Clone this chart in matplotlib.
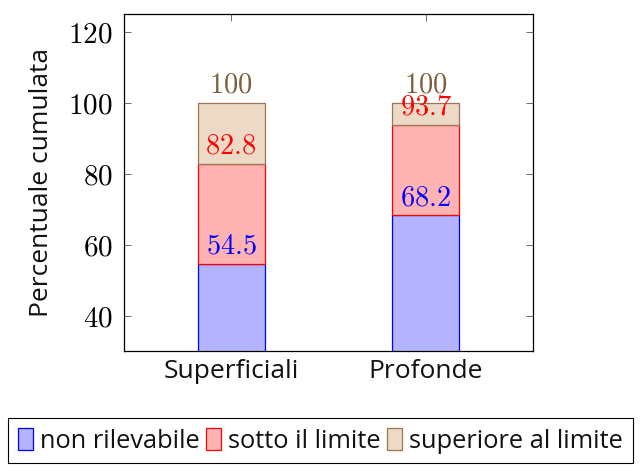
import matplotlib
matplotlib.use("Agg")
import matplotlib.pyplot as plt
import numpy as np

# Cumulative percentages per depth class
categories = ["Superficiali", "Profonde"]
cum_non_rilevabile = [54.5, 68.2]
cum_sotto_limite = [82.8, 93.7]
cum_superiore = [100, 100]
series_names = ["non rilevabile", "sotto il limite", "superiore al limite"]
y_ticks = [40, 60, 80, 100, 120]

plt.rcParams["mathtext.fontset"] = "cm"
SANS = "Open Sans"
SANS_SIZE = 19

fills = ["#b3b3ff", "#ffb3b3", "#ecd9c6"]
edges = ["#0000ff", "#ff0000", "#9c7650"]
text_cols = ["#0000ff", "#ff0000", "#7f5c3a"]

fig = plt.figure(figsize=(6.42, 4.67), dpi=100)
ax = fig.add_axes([124 / 642, 1 - 351 / 467, (533 - 124) / 642, (351 - 14) / 467])

x = np.arange(len(categories))
width = 0.343
cums = [cum_non_rilevabile, cum_sotto_limite, cum_superiore]
bottoms = [0, 0]
handles = []
for name, cum, fc, ec, tc in zip(series_names, cums, fills, edges, text_cols):
    heights = [c - b for c, b in zip(cum, bottoms)]
    h = ax.bar(x, heights, width, bottom=bottoms, color=fc, edgecolor=ec,
               linewidth=0.9, label=name, zorder=2)
    handles.append(h)
    for xi, c in zip(x, cum):
        ax.annotate(f"${c:g}$", (xi, c), xytext=(0, 3), textcoords="offset points",
                    ha="center", va="bottom", color=tc, fontsize=20.5, zorder=3)
    bottoms = list(cum)

ax.set_xlim(-0.55, 1.55)
ax.set_ylim(30, 125)
ax.set_yticks(y_ticks)
ax.set_yticklabels([f"${t}$" for t in y_ticks], fontsize=21)
ax.set_xticks(x)
ax.set_xticklabels(categories, fontsize=SANS_SIZE, family=SANS, color="#111111")
ax.tick_params(direction="in", top=True, right=True, length=5, width=0.6,
               color="#555555")
ax.tick_params(axis="y", pad=8)
ax.tick_params(axis="x", pad=6)
for s in ax.spines.values():
    s.set_linewidth(0.9)
ax.set_ylabel("Percentuale cumulata", fontsize=SANS_SIZE, family=SANS,
              color="#111111", labelpad=10)

leg = fig.legend(handles=handles, labels=series_names, loc="upper left",
                 bbox_to_anchor=(8 / 642, 1 - 418 / 467), ncol=3,
                 prop={"family": SANS, "size": 18.3},
                 handlelength=0.6, handleheight=0.98, handletextpad=0.27,
                 columnspacing=0.25, borderpad=0.38, fancybox=False,
                 edgecolor="black", framealpha=1, borderaxespad=0)
for t in leg.get_texts():
    t.set_color("#111111")
leg.get_frame().set_linewidth(0.8)

fig.savefig("out.png", dpi=100)
